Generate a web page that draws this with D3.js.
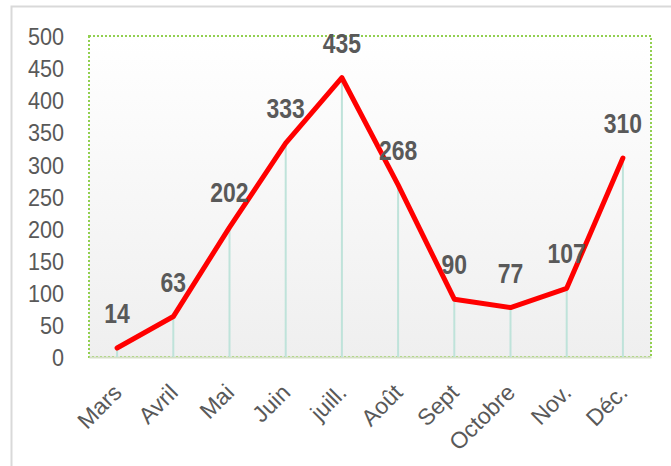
<!DOCTYPE html>
<html>
<head>
<meta charset="utf-8">
<script src="https://cdn.jsdelivr.net/npm/d3@7"></script>
<style>
  body { margin: 0; background: #fff; }
  svg { display: block; }
</style>
</head>
<body>
<div id="chart"></div>
<script>
// Data
var months = ["Mars", "Avril", "Mai", "Juin", "juill.", "Août", "Sept", "Octobre", "Nov.", "Déc."];
var counts = [14, 63, 202, 333, 435, 268, 90, 77, 107, 310];
var yTicks = [0, 50, 100, 150, 200, 250, 300, 350, 400, 450, 500];

var svgWidth = 671;
var svgHeight = 466;

var margin = { top: 36, right: 20, bottom: 109, left: 89 };
var chartWidth = 651 - margin.left;
var chartHeight = 357 - margin.top;

var svg = d3.select("#chart")
    .append("svg")
    .attr("width", svgWidth)
    .attr("height", svgHeight);

// outer chart frame
svg.append("rect")
    .attr("x", 11.5).attr("y", 6.5)
    .attr("width", 700).attr("height", 500)
    .attr("fill", "#fff")
    .attr("stroke", "#d9d9d9")
    .attr("stroke-width", 2);

var defs = svg.append("defs");
var grad = defs.append("linearGradient")
    .attr("id", "plotBg")
    .attr("x1", 0).attr("y1", 0).attr("x2", 0).attr("y2", 1);
grad.append("stop").attr("offset", "0%").attr("stop-color", "#ffffff");
grad.append("stop").attr("offset", "100%").attr("stop-color", "#efefef");

var chartGroup = svg.append("g")
    .attr("transform", `translate(${margin.left}, ${margin.top})`);

var xScale = d3.scaleBand()
    .domain(months)
    .range([0, chartWidth]);

var yScale = d3.scaleLinear()
    .domain([0, 500])
    .range([chartHeight, 0]);

var cx = d => xScale(d) + xScale.bandwidth() / 2;

// squeeze text horizontally to mimic a narrow font
function narrow(sel, ratio) {
    sel.each(function() {
        var w = this.getComputedTextLength();
        d3.select(this)
            .attr("textLength", w * ratio)
            .attr("lengthAdjust", "spacingAndGlyphs");
    });
}

// plot area
chartGroup.append("rect")
    .attr("width", chartWidth)
    .attr("height", chartHeight)
    .attr("fill", "url(#plotBg)")
    .attr("stroke", "#92d050")
    .attr("stroke-width", 2)
    .attr("stroke-dasharray", "2,2");

// y axis labels
var yAxis = d3.axisLeft(yScale)
    .tickValues(yTicks)
    .tickSize(0)
    .tickPadding(25);

chartGroup.append("g")
    .attr("class", "y-axis")
    .call(yAxis)
    .call(g => g.select(".domain").remove())
    .selectAll("text")
    .attr("dy", "0.36em")
    .style("font-family", "'Liberation Sans', Arial, sans-serif")
    .style("font-size", "24px")
    .style("fill", "#595959")
    .call(narrow, 0.9);

// x axis
var xAxis = d3.axisBottom(xScale).tickSize(0).tickPadding(0);

var xg = chartGroup.append("g")
    .attr("class", "x-axis")
    .attr("transform", `translate(0, ${chartHeight})`)
    .call(xAxis);

xg.select(".domain")
    .attr("stroke", "#d6dfc8")
    .attr("stroke-width", 2);

xg.selectAll("text")
    .attr("dy", null)
    .attr("y", 0)
    .attr("text-anchor", "end")
    .attr("transform", "translate(6, 37) rotate(-45)")
    .style("font-family", "'Liberation Sans', Arial, sans-serif")
    .style("font-size", "23px")
    .style("fill", "#595959");

// drop lines
chartGroup.selectAll(".drop")
    .data(months)
    .enter()
    .append("line")
    .attr("class", "drop")
    .attr("x1", d => cx(d))
    .attr("x2", d => cx(d))
    .attr("y1", (d, i) => yScale(counts[i]))
    .attr("y2", chartHeight)
    .attr("stroke", "#bfe3da")
    .attr("stroke-width", 2);

// line
var line = d3.line()
    .x((d, i) => cx(months[i]))
    .y(d => yScale(d));

chartGroup.append("path")
    .datum(counts)
    .attr("d", line)
    .attr("fill", "none")
    .attr("stroke", "#ff0000")
    .attr("stroke-width", 5)
    .attr("stroke-linejoin", "round")
    .attr("stroke-linecap", "round");

// data labels
chartGroup.selectAll(".lbl")
    .data(counts)
    .enter()
    .append("text")
    .attr("class", "lbl")
    .attr("x", (d, i) => cx(months[i]))
    .attr("y", d => yScale(d) - 25)
    .attr("text-anchor", "middle")
    .style("font-family", "'Liberation Sans', Arial, sans-serif")
    .style("font-weight", "bold")
    .style("font-size", "27px")
    .style("fill", "#595959")
    .text(d => d)
    .call(narrow, 0.85);
</script>
</body>
</html>
